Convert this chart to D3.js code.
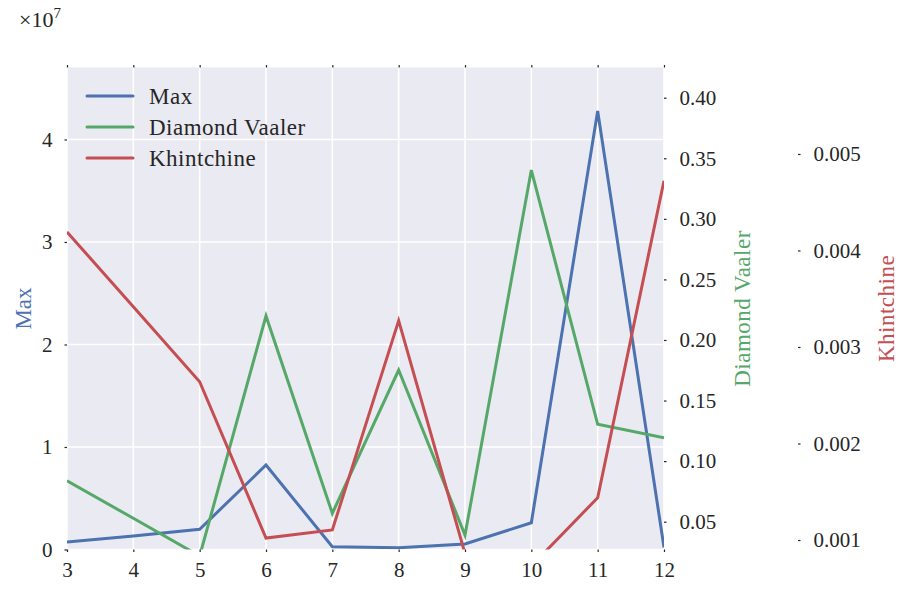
<!DOCTYPE html>
<html>
<head>
<meta charset="utf-8">
<script src="https://cdn.jsdelivr.net/npm/d3@7"></script>
<style>
  body { margin: 0; background: #fff; }
  svg text { font-family: "Liberation Serif", "DejaVu Serif", serif; fill: #262626; }
</style>
</head>
<body>
<svg id="chart" width="898" height="590"></svg>
<script>
// data
const xs = [3, 4, 5, 6, 7, 8, 9, 10, 11, 12];
const maxVals = [0.073e7, 0.132e7, 0.197e7, 0.824e7, 0.027e7, 0.018e7, 0.054e7, 0.261e7, 4.278e7, 0.02e7];
const diamondVals = [0.0838, 0.0528, 0.0217, 0.2198, 0.0569, 0.1752, 0.039, 0.3403, 0.1304, 0.1193];
const khinVals = [0.004192, 0.003417, 0.00264, 0.00102, 0.001104, 0.003273, 0.00086, 0.00073, 0.001438, 0.004723];

const leftTicks = [0, 1e7, 2e7, 3e7, 4e7];
const diamondTicks = [0.05, 0.10, 0.15, 0.20, 0.25, 0.30, 0.35, 0.40];
const khinTicks = [0.001, 0.002, 0.003, 0.004, 0.005];

const colors = { max: "#4C72B0", diamond: "#55A868", khin: "#C44E52" };

const svg = d3.select("#chart");
const margin = { top: 67.5, left: 67, right: 664, bottom: 549.5 };

const x = d3.scaleLinear().domain([3, 12]).range([margin.left, margin.right]);
const yL = d3.scaleLinear().domain([0, 4.702e7]).range([margin.bottom, margin.top]);
const yD = d3.scaleLinear().domain([0.02705, 0.42493]).range([margin.bottom, margin.top]);
const yK = d3.scaleLinear().domain([0.0009016, 0.005896]).range([margin.bottom, margin.top]);

// background
svg.append("rect")
  .attr("x", margin.left).attr("y", margin.top)
  .attr("width", margin.right - margin.left)
  .attr("height", margin.bottom - margin.top)
  .attr("fill", "#EAEAF2");

// grid
const grid = svg.append("g").attr("stroke", "#fff").attr("stroke-width", 1.6);
grid.selectAll("line.v").data(xs).enter().append("line")
  .attr("x1", d => x(d)).attr("x2", d => x(d))
  .attr("y1", margin.top).attr("y2", margin.bottom);
grid.selectAll("line.h").data(leftTicks).enter().append("line")
  .attr("x1", margin.left).attr("x2", margin.right)
  .attr("y1", d => yL(d)).attr("y2", d => yL(d));

// clip
svg.append("clipPath").attr("id", "clip").append("rect")
  .attr("x", margin.left).attr("y", margin.top)
  .attr("width", margin.right - margin.left)
  .attr("height", margin.bottom - margin.top);

const plot = svg.append("g").attr("clip-path", "url(#clip)");
const series = [
  { vals: maxVals, y: yL, color: colors.max },
  { vals: diamondVals, y: yD, color: colors.diamond },
  { vals: khinVals, y: yK, color: colors.khin }
];
series.forEach(s => {
  const line = d3.line().x((d, i) => x(xs[i])).y(d => s.y(d));
  plot.append("path")
    .datum(s.vals)
    .attr("d", line)
    .attr("fill", "none")
    .attr("stroke", s.color)
    .attr("stroke-width", 3)
    .attr("stroke-linejoin", "miter");
});

// axes
function styleAxis(g) {
  g.select(".domain").remove();
  g.selectAll(".tick line").attr("stroke", "#262626").attr("stroke-width", 1.2);
  g.selectAll(".tick text").attr("font-size", 21).attr("fill", "#262626")
    .style("font-family", '"Liberation Serif", "DejaVu Serif", serif');
}

svg.append("g")
  .attr("transform", `translate(0,${margin.bottom})`)
  .call(d3.axisBottom(x).tickValues(xs).tickFormat(d3.format("d")).tickSize(2.5).tickPadding(10))
  .call(styleAxis);

svg.append("g")
  .attr("transform", `translate(0,${margin.top})`)
  .call(d3.axisTop(x).tickValues(xs).tickFormat("").tickSize(2.5))
  .call(styleAxis);

svg.append("g")
  .attr("transform", `translate(${margin.left},0)`)
  .call(d3.axisLeft(yL).tickValues(leftTicks).tickFormat(d => d / 1e7).tickSize(2.5).tickPadding(12))
  .call(styleAxis);

svg.append("g")
  .attr("transform", `translate(${margin.right},0)`)
  .call(d3.axisRight(yD).tickValues(diamondTicks).tickFormat(d3.format(".2f")).tickSize(2.5).tickPadding(13))
  .call(styleAxis);

svg.append("g")
  .attr("transform", `translate(798,0)`)
  .call(d3.axisRight(yK).tickValues(khinTicks).tickFormat(d3.format(".3f")).tickSize(2.5).tickPadding(13))
  .call(styleAxis);

// multiplier
const mult = svg.append("text").attr("x", 19).attr("y", 27).attr("font-size", 22);
mult.append("tspan").text("×10");
mult.append("tspan").attr("dy", -9).attr("font-size", 15).text("7");

// axis labels
const midY = (margin.top + margin.bottom) / 2;
svg.append("text")
  .attr("transform", `translate(31,${midY}) rotate(-90)`)
  .attr("text-anchor", "middle").attr("font-size", 23)
  .style("fill", colors.max).text("Max");
svg.append("text")
  .attr("transform", `translate(750,${midY}) rotate(-90)`)
  .attr("text-anchor", "middle").attr("font-size", 23)
  .attr("letter-spacing", 0.5)
  .style("fill", colors.diamond).text("Diamond Vaaler");
svg.append("text")
  .attr("transform", `translate(894,${midY}) rotate(-90)`)
  .attr("text-anchor", "middle").attr("font-size", 23)
  .attr("letter-spacing", 0.5)
  .style("fill", colors.khin).text("Khintchine");

// legend
const legendItems = [
  { name: "Max", color: colors.max },
  { name: "Diamond Vaaler", color: colors.diamond },
  { name: "Khintchine", color: colors.khin }
];
const legend = svg.append("g");
legendItems.forEach((d, i) => {
  const yy = 96 + i * 31;
  legend.append("line")
    .attr("x1", 87).attr("x2", 133).attr("y1", yy).attr("y2", yy)
    .attr("stroke", d.color).attr("stroke-width", 3).attr("stroke-linecap", "round");
  legend.append("text")
    .attr("x", 149).attr("y", yy + 8).attr("font-size", 23)
    .attr("letter-spacing", 0.5)
    .text(d.name);
});
</script>
</body>
</html>
